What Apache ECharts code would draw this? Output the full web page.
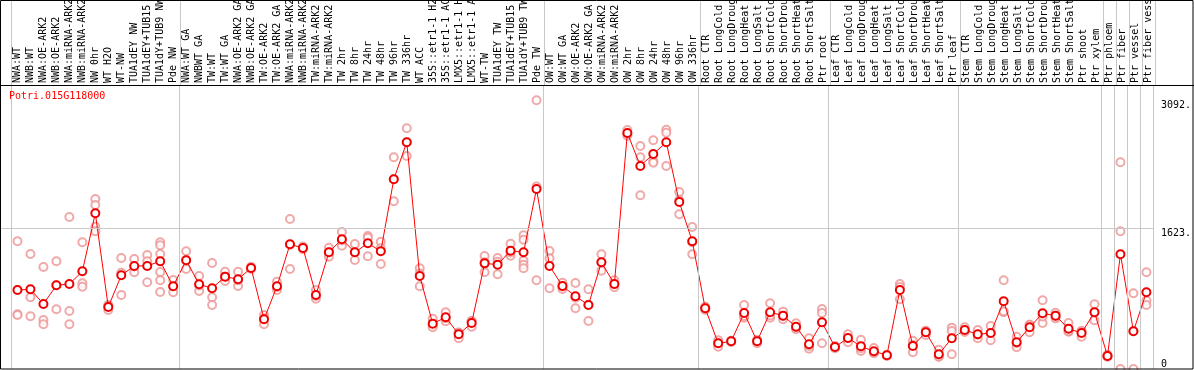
<!DOCTYPE html>
<html>
<head>
<meta charset="utf-8">
<script src="https://cdn.jsdelivr.net/npm/echarts@6/dist/echarts.min.js"></script>
<style>
html,body{margin:0;padding:0;background:#fff;}
#chart{width:1194px;height:370px;}
</style>
</head>
<body>
<div id="chart"></div>
<script>
const geneName = 'Potri.015G118000';

const categories = [
  'NWA:WT','NWB:WT','NWA:OE-ARK2','NWB:OE-ARK2','NWA:miRNA-ARK2','NWB:miRNA-ARK2','NW 0hr','WT H2O','WT-NW',
  'TUA1dEY NW','TUA1dEY+TUB15 NW','TUA1dY+TUB9 NW','Pde NW',
  'NWA:WT GA','NWBWT GA','TW:WT','TW:WT GA','NWA:OE-ARK2 GA','NWB:OE-ARK2 GA','TW:OE-ARK2','TW:OE-ARK2 GA',
  'NWA:miRNA-ARK2 GA','NWB:miRNA-ARK2 GA','TW:miRNA-ARK2','TW:miRNA-ARK2 GA',
  'TW 2hr','TW 8hr','TW 24hr','TW 48hr','TW 96hr','TW 336hr','WT ACC',
  '35S::etr1-1 H2O','35S::etr1-1 ACC','LMX5::etr1-1 H2O','LMX5::etr1-1 ACC','WT-TW',
  'TUA1dEY TW','TUA1dEY+TUB15 TW','TUA1dY+TUB9 TW','Pde TW',
  'OW:WT','OW:WT GA','OW:OE-ARK2','OW:OE-ARK2 GA','OW:miRNA-ARK2','OW:miRNA-ARK2 GA',
  'OW 2hr','OW 8hr','OW 24hr','OW 48hr','OW 96hr','OW 336hr',
  'Root CTR','Root LongCold','Root LongDrought','Root LongHeat','Root LongSalt',
  'Root ShortCold','Root ShortDrought','Root ShortHeat','Root ShortSalt','Ptr root',
  'Leaf CTR','Leaf LongCold','Leaf LongDrought','Leaf LongHeat','Leaf LongSalt',
  'Leaf ShortCold','Leaf ShortDrought','Leaf ShortHeat','Leaf ShortSalt','Ptr leaf',
  'Stem CTR','Stem LongCold','Stem LongDrought','Stem LongHeat','Stem LongSalt',
  'Stem ShortCold','Stem ShortDrought','Stem ShortHeat','Stem ShortSalt','Ptr shoot',
  'Ptr xylem','Ptr phloem','Ptr fiber','Ptr vessel','Ptr fiber vessel'
];

const means = [
  909,917,748,963,978,1124,1792,714,1078,1186,1186,1240,952,
  1251,975,929,1063,1032,1163,572,952,1435,1393,852,1343,
  1493,1343,1447,1355,2183,2609,1070,522,595,399,529,1216,
  1201,1362,1343,2072,
  1186,955,837,737,1228,978,2716,2337,2475,2609,1922,1470,
  699,296,319,645,319,653,614,487,284,537,
  253,357,261,204,158,909,265,422,169,353,
  449,399,414,779,307,480,641,614,464,414,
  653,150,1320,434,883
];

const replicates = [
  [1470,630,622],[1324,825,607],[1174,564,514],[1240,687,963],[1750,668,514],[1458,986,947],
  [1957,1888,1638,1585],[737,679,726],[1278,1108,852],[1266,1113,1180],[1312,1240,998],
  [1458,1424,1324,1117,1021,886],[1024,883,952],
  [1355,1151,1251],[1070,898,960],[1220,825,737],[1120,1013,1063],[1120,955,1020],[1177,1150],
  [622,514,580],[1005,909,945],[1727,1151,1430],[1393,1380,1410],[909,809,840],[1396,1293,1343],
  [1577,1419,1480],[1439,1255,1343],[1531,1297,1510],[1465,1209,1390],[2437,1930,2183],[2770,2452,2609],
  [1159,952,1100],[579,506,480],[653,549,585],[418,353,420],[552,487,550],[1301,1113,1230],
  [1278,1090,1235],[1442,1304,1340],[1539,1488,1247,1201,1159],[3092,1021,2100],
  [1358,1274,929],[993,921,950],[990,699,820],[917,552,740],[1320,1132,1230],[1021,940,975],
  [2751,2685,2710],[2567,2437,1999],[2632,2394,2375],[2754,2337,2720],[2037,1781,1945],[1634,1320,1460],
  [679,700,715],[257,300,330],[326,310,320],[737,590,610],[326,296,335],[756,590,615],[660,572,610],
  [526,457,480],[353,234,265],[691,645,296],
  [253,240,265],[307,357,400],[337,207,240],[242,181,190],[165,150,160],[978,802,945],[326,192,275],
  [437,391,440],[222,142,145],[476,437,169],
  [441,426,480],[449,353,395],[495,330,415],[1021,653,665],[372,250,300],[510,422,508],[791,529,603],
  [648,583,610],[529,429,434],[434,372,436],
  [745,560,655],[165,142,145],[2379,1585,0],[871,0,434],[1113,787,737]
];

const yTickLabels = [1623, 3092];
const yZeroLabel = [0];
// group boundaries: index of first category of each group (plus end)
const groupStarts = [0,13,41,53,63,73,84,85,86,87,88];

const chart = echarts.init(document.getElementById('chart'), null, {renderer:'canvas'});

const meanData = means.map((v,i)=>[i,v]);
const repData = [];
replicates.forEach((arr,i)=>arr.forEach(v=>repData.push([i,v])));

const mono = 'DejaVu Sans Mono';
const gridLine = '#c8c8c8';

const vLines = groupStarts.map(g=>({xAxis: g-0.5}));

const option = {
  animation:false,
  title:{
    text: geneName, left: 9, top: 91, padding: 0,
    textStyle:{color:'#ff0000', fontFamily: mono, fontSize:10, fontWeight:'normal'}
  },
  grid:[
    {left:11, top:0, width:1144, height:86},
    {left:1, top:86, width:1154, height:283}
  ],
  xAxis:[
    {
      type:'category', gridIndex:0, data:categories, position:'bottom',
      axisLine:{show:false}, axisTick:{show:false},
      axisLabel:{
        interval:0, rotate:90, inside:true, margin:3,
        fontFamily:mono, fontSize:10, color:'#000'
      },
      splitLine:{show:false}
    },
    {
      type:'value', gridIndex:1, min:-0.5-10/13, max:87.5, show:false
    }
  ],
  yAxis:[
    {
      type:'value', gridIndex:1, min:0, max:3257, position:'right',
      axisLine:{show:false}, axisTick:{show:false}, splitLine:{show:false},
      axisLabel:{
        customValues: yTickLabels, margin:8, verticalAlign:'top',
        fontFamily:mono, fontSize:10, color:'#000',
        formatter: v => v + '.'
      }
    },
    {
      type:'value', gridIndex:1, min:0, max:3257, position:'right',
      axisLine:{show:false}, axisTick:{show:false}, splitLine:{show:false},
      axisLabel:{
        customValues: yZeroLabel, margin:8, verticalAlign:'bottom',
        fontFamily:mono, fontSize:10, color:'#000'
      }
    },
    {type:'value', gridIndex:0, show:false, min:0, max:1}
  ],
  graphic:[
    {type:'line', shape:{x1:0, y1:85.5, x2:1194, y2:85.5}, style:{stroke:'#000', lineWidth:1}, z:10},
    {type:'rect', shape:{x:0.5, y:0.5, width:1192.5, height:368.5}, style:{fill:null, stroke:'#000', lineWidth:1}, z:10}
  ].concat(groupStarts.map(g=>({
    type:'line', shape:{x1:11+g*13+0.5, y1:0, x2:11+g*13+0.5, y2:86},
    style:{stroke:gridLine, lineWidth:1}, z:1
  }))),
  series:[
    {
      type:'scatter', xAxisIndex:1, yAxisIndex:0, data:repData,
      symbol:'emptyCircle', symbolSize:8,
      itemStyle:{color:'#ec9494', borderWidth:1.3},
      z:2, silent:true,
      markLine:{
        silent:true, symbol:['none','none'], label:{show:false},
        lineStyle:{color:gridLine, width:1, type:'solid'},
        data: vLines.concat([{yAxis:1623}])
      }
    },
    {
      type:'line', xAxisIndex:1, yAxisIndex:0, data:meanData,
      symbol:'emptyCircle', symbolSize:8,
      lineStyle:{color:'#ff0000', width:1},
      itemStyle:{color:'#ee0000', borderWidth:1.5},
      z:3, silent:true
    }
  ]
};
chart.setOption(option);
</script>
</body>
</html>
